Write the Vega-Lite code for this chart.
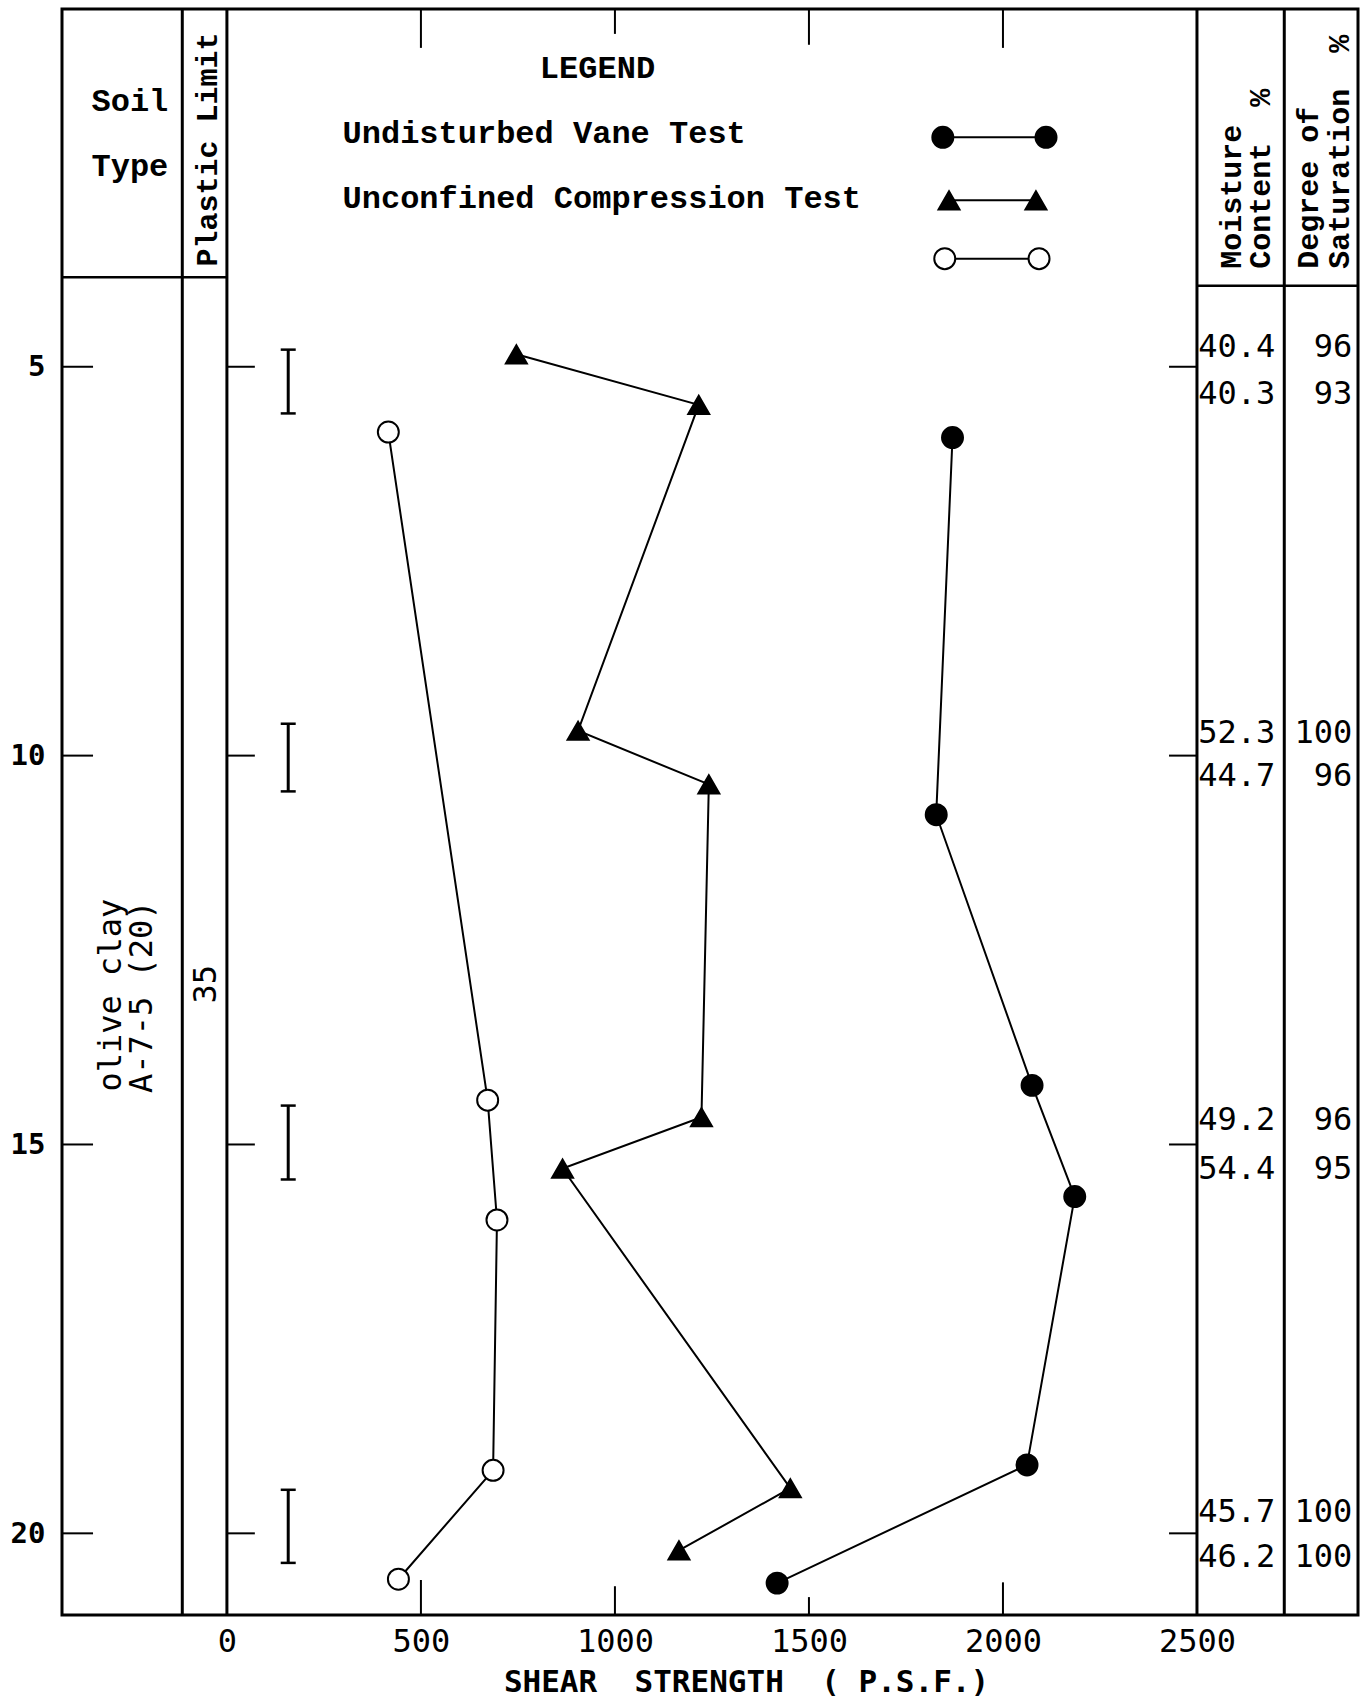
{
  "$schema": "https://vega.github.io/schema/vega-lite/v6.json",
  "autosize": "none",
  "width": 1296,
  "height": 1606,
  "padding": {"left": 62, "top": 9, "right": 13, "bottom": 85},
  "background": "white",
  "config": {
    "view": {"stroke": "black", "strokeWidth": 3},
    "axis": {"grid": false, "domain": false, "ticks": false, "labelColor": "black", "titleColor": "black"}
  },
  "datasets": {
    "obs": [
      {"series": "Undisturbed Vane Test", "strength": 1870, "depth": 5.91},
      {"series": "Undisturbed Vane Test", "strength": 1828, "depth": 10.76},
      {"series": "Undisturbed Vane Test", "strength": 2075, "depth": 14.24},
      {"series": "Undisturbed Vane Test", "strength": 2185, "depth": 15.67},
      {"series": "Undisturbed Vane Test", "strength": 2062, "depth": 19.12},
      {"series": "Undisturbed Vane Test", "strength": 1418, "depth": 20.64},
      {"series": "Unconfined Compression Test", "strength": 746, "depth": 4.84},
      {"series": "Unconfined Compression Test", "strength": 1216, "depth": 5.49},
      {"series": "Unconfined Compression Test", "strength": 905, "depth": 9.68},
      {"series": "Unconfined Compression Test", "strength": 1242, "depth": 10.37},
      {"series": "Unconfined Compression Test", "strength": 1223, "depth": 14.65},
      {"series": "Unconfined Compression Test", "strength": 865, "depth": 15.31},
      {"series": "Unconfined Compression Test", "strength": 1452, "depth": 19.42},
      {"series": "Unconfined Compression Test", "strength": 1165, "depth": 20.22},
      {"series": "Unlabelled series", "strength": 416, "depth": 5.84},
      {"series": "Unlabelled series", "strength": 672, "depth": 14.43},
      {"series": "Unlabelled series", "strength": 696, "depth": 15.97},
      {"series": "Unlabelled series", "strength": 686, "depth": 19.19},
      {"series": "Unlabelled series", "strength": 442, "depth": 20.59}
    ],
    "key": [
      {"series": "Undisturbed Vane Test", "strength": 1845, "depth": 2.05},
      {"series": "Undisturbed Vane Test", "strength": 2111, "depth": 2.05},
      {"series": "Unconfined Compression Test", "strength": 1861, "depth": 2.86},
      {"series": "Unconfined Compression Test", "strength": 2085, "depth": 2.86},
      {"series": "Unlabelled series", "strength": 1850, "depth": 3.61},
      {"series": "Unlabelled series", "strength": 2093, "depth": 3.61}
    ],
    "samples": [
      {"depth": 4.75, "mc": 40.4, "ds": 96},
      {"depth": 5.35, "mc": 40.3, "ds": 93},
      {"depth": 9.71, "mc": 52.3, "ds": 100},
      {"depth": 10.26, "mc": 44.7, "ds": 96},
      {"depth": 14.69, "mc": 49.2, "ds": 96},
      {"depth": 15.31, "mc": 54.4, "ds": 95},
      {"depth": 19.72, "mc": 45.7, "ds": 100},
      {"depth": 20.3, "mc": 46.2, "ds": 100}
    ],
    "intervals": [
      {"top": 4.78, "bottom": 5.6},
      {"top": 9.59, "bottom": 10.46},
      {"top": 14.5, "bottom": 15.45},
      {"top": 19.44, "bottom": 20.38}
    ],
    "dividers": [
      {"strength": -115},
      {"strength": 0},
      {"strength": 2500},
      {"strength": 2725}
    ],
    "headerlines": [
      {"strength": -425, "strength2": 0, "depth": 3.85},
      {"strength": 2500, "strength2": 2915, "depth": 3.96}
    ],
    "depthticks": [
      {"strength": -425, "strength2": -345, "depth": 5},
      {"strength": -425, "strength2": -345, "depth": 10},
      {"strength": -425, "strength2": -345, "depth": 15},
      {"strength": -425, "strength2": -345, "depth": 20},
      {"strength": 0, "strength2": 72, "depth": 5},
      {"strength": 0, "strength2": 72, "depth": 10},
      {"strength": 0, "strength2": 72, "depth": 15},
      {"strength": 0, "strength2": 72, "depth": 20},
      {"strength": 2428, "strength2": 2500, "depth": 5},
      {"strength": 2428, "strength2": 2500, "depth": 10},
      {"strength": 2428, "strength2": 2500, "depth": 15},
      {"strength": 2428, "strength2": 2500, "depth": 20}
    ],
    "strengthticks": [
      {"strength": 500, "depth": 21.05, "depth2": 20.6},
      {"strength": 1000, "depth": 21.05, "depth2": 20.68},
      {"strength": 1500, "depth": 21.05, "depth2": 20.82},
      {"strength": 2000, "depth": 21.05, "depth2": 20.63},
      {"strength": 500, "depth": 0.4, "depth2": 0.9},
      {"strength": 1000, "depth": 0.4, "depth2": 0.72},
      {"strength": 1500, "depth": 0.4, "depth2": 0.86},
      {"strength": 2000, "depth": 0.4, "depth2": 0.9}
    ],
    "annotations": [
      {"text": "Soil", "strength": -250, "depth": 1.58, "role": "center"},
      {"text": "Type", "strength": -250, "depth": 2.42, "role": "center"},
      {"text": "LEGEND", "strength": 955, "depth": 1.16, "role": "center"},
      {"text": "Undisturbed Vane Test", "strength": 298, "depth": 2.0, "role": "left"},
      {"text": "Unconfined Compression Test", "strength": 298, "depth": 2.83, "role": "left"},
      {"text": "Plastic Limit", "strength": -50, "depth": 3.71, "role": "vertical"},
      {"text": "Moisture", "strength": 2589, "depth": 3.74, "role": "vertical"},
      {"text": "Content\u00a0\u00a0%", "strength": 2664, "depth": 3.74, "role": "vertical"},
      {"text": "Degree of", "strength": 2790, "depth": 3.74, "role": "vertical"},
      {"text": "Saturation\u00a0\u00a0%", "strength": 2868, "depth": 3.74, "role": "vertical"},
      {"text": "olive clay", "strength": -298, "depth": 13.08, "role": "verticalCenter"},
      {"text": "A-7-5 (20)", "strength": -219, "depth": 13.1, "role": "verticalCenter"},
      {"text": "35", "strength": -55, "depth": 12.94, "role": "verticalCenter"}
    ]
  },
  "layer": [
    {
      "data": {"name": "obs"},
      "mark": {"type": "line", "color": "black", "strokeWidth": 2},
      "encoding": {
        "x": {
          "field": "strength", "type": "quantitative",
          "scale": {"domain": [-425, 2915], "nice": false, "zero": false},
          "axis": {
            "values": [0, 500, 1000, 1500, 2000, 2500], "format": "d",
            "title": "SHEAR\u00a0\u00a0STRENGTH\u00a0\u00a0(\u00a0P.S.F.)",
            "labelFont": "DejaVu Sans Mono", "labelFontSize": 32, "labelPadding": 11,
            "labelFlush": false, "labelOverlap": false,
            "titleFont": "DejaVu Sans Mono", "titleFontSize": 31, "titleFontWeight": "bold",
            "titleX": 684, "titleY": 76, "titleAlign": "center", "titleBaseline": "alphabetic"
          }
        },
        "y": {
          "field": "depth", "type": "quantitative",
          "scale": {"domain": [0.4, 21.05], "reverse": true, "nice": false, "zero": false},
          "axis": {
            "values": [5, 10, 15, 20], "format": "d", "title": "",
            "labelFont": "DejaVu Sans Mono", "labelFontSize": 29, "labelFontWeight": "bold",
            "labelPadding": 17, "labelFlush": false, "labelOverlap": false
          }
        },
        "detail": {"field": "series", "type": "nominal"},
        "order": {"field": "depth", "type": "quantitative"}
      }
    },
    {
      "data": {"name": "dividers"},
      "mark": {"type": "rule", "color": "black", "strokeWidth": 3},
      "encoding": {"x": {"field": "strength", "type": "quantitative"}}
    },
    {
      "data": {"name": "headerlines"},
      "mark": {"type": "rule", "color": "black", "strokeWidth": 2.5},
      "encoding": {
        "x": {"field": "strength", "type": "quantitative"},
        "x2": {"field": "strength2"},
        "y": {"field": "depth", "type": "quantitative"}
      }
    },
    {
      "data": {"name": "depthticks"},
      "mark": {"type": "rule", "color": "black", "strokeWidth": 2},
      "encoding": {
        "x": {"field": "strength", "type": "quantitative"},
        "x2": {"field": "strength2"},
        "y": {"field": "depth", "type": "quantitative"}
      }
    },
    {
      "data": {"name": "strengthticks"},
      "mark": {"type": "rule", "color": "black", "strokeWidth": 2},
      "encoding": {
        "x": {"field": "strength", "type": "quantitative"},
        "y": {"field": "depth", "type": "quantitative"},
        "y2": {"field": "depth2"}
      }
    },
    {
      "data": {"name": "intervals"},
      "transform": [{"fold": ["top", "bottom"], "as": ["end", "depth"]}],
      "mark": {"type": "line", "color": "black", "strokeWidth": 3},
      "encoding": {
        "x": {"datum": 158, "type": "quantitative"},
        "y": {"field": "depth", "type": "quantitative"},
        "detail": {"field": "top", "type": "nominal"}
      }
    },
    {
      "data": {"name": "intervals"},
      "transform": [{"fold": ["top", "bottom"], "as": ["end", "depth"]}],
      "mark": {"type": "tick", "orient": "horizontal", "color": "black", "size": 15, "thickness": 2.5, "opacity": 1},
      "encoding": {
        "x": {"datum": 158, "type": "quantitative"},
        "y": {"field": "depth", "type": "quantitative"}
      }
    },
    {
      "data": {"name": "key"},
      "mark": {"type": "line", "color": "black", "strokeWidth": 2},
      "encoding": {
        "x": {"field": "strength", "type": "quantitative"},
        "y": {"field": "depth", "type": "quantitative"},
        "detail": {"field": "series", "type": "nominal"}
      }
    },
    {
      "data": {"name": "obs"},
      "mark": {"type": "point", "stroke": "black", "strokeWidth": 2, "opacity": 1, "size": 440},
      "encoding": {
        "x": {"field": "strength", "type": "quantitative"},
        "y": {"field": "depth", "type": "quantitative"},
        "shape": {"field": "series", "type": "nominal", "legend": null,
          "scale": {"domain": ["Undisturbed Vane Test", "Unconfined Compression Test", "Unlabelled series"], "range": ["circle", "triangle-up", "circle"]}},
        "fill": {"field": "series", "type": "nominal", "legend": null,
          "scale": {"domain": ["Undisturbed Vane Test", "Unconfined Compression Test", "Unlabelled series"], "range": ["black", "black", "white"]}}
      }
    },
    {
      "data": {"name": "key"},
      "mark": {"type": "point", "stroke": "black", "strokeWidth": 2, "opacity": 1, "size": 440},
      "encoding": {
        "x": {"field": "strength", "type": "quantitative"},
        "y": {"field": "depth", "type": "quantitative"},
        "shape": {"field": "series", "type": "nominal", "legend": null},
        "fill": {"field": "series", "type": "nominal", "legend": null}
      }
    },
    {
      "data": {"name": "annotations"},
      "transform": [{"filter": "datum.role == 'center'"}],
      "mark": {"type": "text", "font": "Liberation Mono", "fontSize": 32, "fontWeight": "bold", "align": "center", "baseline": "middle", "color": "black"},
      "encoding": {
        "x": {"field": "strength", "type": "quantitative"},
        "y": {"field": "depth", "type": "quantitative"},
        "text": {"field": "text", "type": "nominal"}
      }
    },
    {
      "data": {"name": "annotations"},
      "transform": [{"filter": "datum.role == 'left'"}],
      "mark": {"type": "text", "font": "Liberation Mono", "fontSize": 32, "fontWeight": "bold", "align": "left", "baseline": "middle", "color": "black"},
      "encoding": {
        "x": {"field": "strength", "type": "quantitative"},
        "y": {"field": "depth", "type": "quantitative"},
        "text": {"field": "text", "type": "nominal"}
      }
    },
    {
      "data": {"name": "annotations"},
      "transform": [{"filter": "datum.role == 'vertical'"}],
      "mark": {"type": "text", "font": "Liberation Mono", "fontSize": 30, "fontWeight": "bold", "align": "left", "baseline": "middle", "angle": 270, "color": "black"},
      "encoding": {
        "x": {"field": "strength", "type": "quantitative"},
        "y": {"field": "depth", "type": "quantitative"},
        "text": {"field": "text", "type": "nominal"}
      }
    },
    {
      "data": {"name": "annotations"},
      "transform": [{"filter": "datum.role == 'verticalCenter'"}],
      "mark": {"type": "text", "font": "DejaVu Sans Mono", "fontSize": 32, "align": "center", "baseline": "middle", "angle": 270, "color": "black"},
      "encoding": {
        "x": {"field": "strength", "type": "quantitative"},
        "y": {"field": "depth", "type": "quantitative"},
        "text": {"field": "text", "type": "nominal"}
      }
    },
    {
      "data": {"name": "samples"},
      "mark": {"type": "text", "font": "DejaVu Sans Mono", "fontSize": 32, "align": "left", "baseline": "middle", "color": "black"},
      "encoding": {
        "x": {"datum": 2503, "type": "quantitative"},
        "y": {"field": "depth", "type": "quantitative"},
        "text": {"field": "mc", "type": "quantitative", "format": ".1f"}
      }
    },
    {
      "data": {"name": "samples"},
      "mark": {"type": "text", "font": "DejaVu Sans Mono", "fontSize": 32, "align": "right", "baseline": "middle", "color": "black"},
      "encoding": {
        "x": {"datum": 2900, "type": "quantitative"},
        "y": {"field": "depth", "type": "quantitative"},
        "text": {"field": "ds", "type": "quantitative", "format": "d"}
      }
    }
  ]
}
